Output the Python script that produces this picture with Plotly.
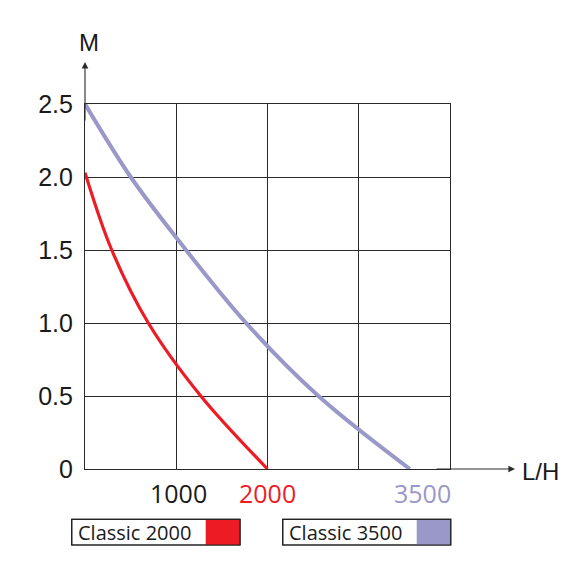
import plotly.graph_objects as go

# ---- data ----
red_flow = [0, 293, 694, 1269, 2000]
red_head = [2.03, 1.5, 1.0, 0.5, 0.0]

purple_flow = [0, 501, 1000, 1765, 2558, 3560]
purple_head = [2.5, 2.0, 1.585, 1.0, 0.5, 0.0]

y_tick_vals = [0, 0.5, 1.0, 1.5, 2.0, 2.5]
y_tick_text = ["0", "0.5", "1.0", "1.5", "2.0", "2.5"]

x_label_vals = [1000, 2000, 3500]
x_label_text = ["1000", "2000", "3500"]

series_names = ["Classic 2000", "Classic 3500"]

RED = "#ed1c24"
PURPLE = "#9a97c9"
x_label_colors = ["#1a1a1a", RED, PURPLE]
x_label_shift = [2, 0, 18]

fig = go.Figure()
fig.add_trace(go.Scatter(x=red_flow, y=red_head, mode="lines",
                         line=dict(color=RED, width=3.2, shape="spline", smoothing=1.0),
                         name=series_names[0], cliponaxis=False))
fig.add_trace(go.Scatter(x=purple_flow, y=purple_head, mode="lines",
                         line=dict(color=PURPLE, width=4, shape="spline", smoothing=1.0),
                         name=series_names[1], cliponaxis=False))

axis_col = "#2a2a2a"
fig.update_xaxes(range=[0, 4000], dtick=1000, tick0=0, showgrid=True, gridcolor=axis_col,
                 gridwidth=1.2, showline=True, linecolor=axis_col, linewidth=1.2, mirror=True,
                 zeroline=False, showticklabels=False, ticks="", fixedrange=True)
fig.update_yaxes(range=[0, 2.5], tickvals=y_tick_vals, ticktext=y_tick_text, showgrid=True,
                 gridcolor=axis_col, gridwidth=1.2, showline=True, linecolor=axis_col,
                 linewidth=1.2, mirror=True, zeroline=False, ticks="",
                 ticklabelstandoff=6,
                 tickfont=dict(family="Liberation Sans, Arial, sans-serif", size=25, color="#1a1a1a"),
                 fixedrange=True)

# screen pixel -> paper coords (plot area at x 85..450, y 104..469 on screen)
def px_x(p):
    return (p - 85) / 365.0

def px_y(p):
    return (469 - p) / 365.0

annotations = []
for v, t, c, s in zip(x_label_vals, x_label_text, x_label_colors, x_label_shift):
    annotations.append(dict(x=v, y=px_y(493), xref="x", yref="paper", text=t, showarrow=False,
                            xanchor="center", yanchor="middle", xshift=s,
                            font=dict(family="Open Sans, sans-serif", size=25, color=c)))
annotations.append(dict(x=px_x(515), y=0, xref="paper", yref="paper", text="", showarrow=True,
                        ax=-80, ay=0, arrowhead=2, arrowsize=1.2, arrowwidth=1.1,
                        arrowcolor=axis_col, standoff=0))
annotations.append(dict(x=0, y=px_y(62), xref="paper", yref="paper", text="", showarrow=True,
                        ax=0, ay=60, arrowhead=2, arrowsize=1.2, arrowwidth=1.1,
                        arrowcolor=axis_col, standoff=0))
annotations.append(dict(x=px_x(89), y=px_y(43), xref="paper", yref="paper", text="M",
                        showarrow=False, xanchor="center", yanchor="middle",
                        font=dict(family="Liberation Sans, Arial, sans-serif", size=24, color="#1a1a1a")))
annotations.append(dict(x=px_x(520), y=px_y(471), xref="paper", yref="paper", text="L/H",
                        showarrow=False, xanchor="left", yanchor="middle",
                        font=dict(family="Liberation Sans, Arial, sans-serif", size=24, color="#1a1a1a")))

shapes = []
legend_boxes = [(71.7, 240, 205.7), (282.7, 450.7, 416.7)]
legend_colors = [RED, PURPLE]
for (bx0, bx1, sx0), col, name in zip(legend_boxes, legend_colors, series_names):
    shapes.append(dict(type="rect", xref="paper", yref="paper",
                       x0=px_x(bx0), x1=px_x(bx1), y0=px_y(545), y1=px_y(519.3),
                       line=dict(color="#222", width=1.2), fillcolor="white"))
    shapes.append(dict(type="rect", xref="paper", yref="paper",
                       x0=px_x(sx0), x1=px_x(bx1), y0=px_y(545), y1=px_y(519.3),
                       line=dict(width=0), fillcolor=col))
    shapes.append(dict(type="rect", xref="paper", yref="paper",
                       x0=px_x(bx0), x1=px_x(bx1), y0=px_y(545), y1=px_y(519.3),
                       line=dict(color="#222", width=1.2), fillcolor="rgba(0,0,0,0)"))
    annotations.append(dict(x=px_x(bx0 + 4), y=px_y(532), xref="paper", yref="paper", text=name,
                            showarrow=False, xanchor="left", yanchor="middle",
                            font=dict(family="Open Sans, sans-serif", size=20, color="#1a1a1a")))

# page body has an 8px margin: shrink figure and margins accordingly
fig.update_layout(width=561, height=563, margin=dict(l=77, r=119, t=96, b=102),
                  plot_bgcolor="white", paper_bgcolor="white", showlegend=False,
                  annotations=annotations, shapes=shapes)

fig.write_html("out.html")
